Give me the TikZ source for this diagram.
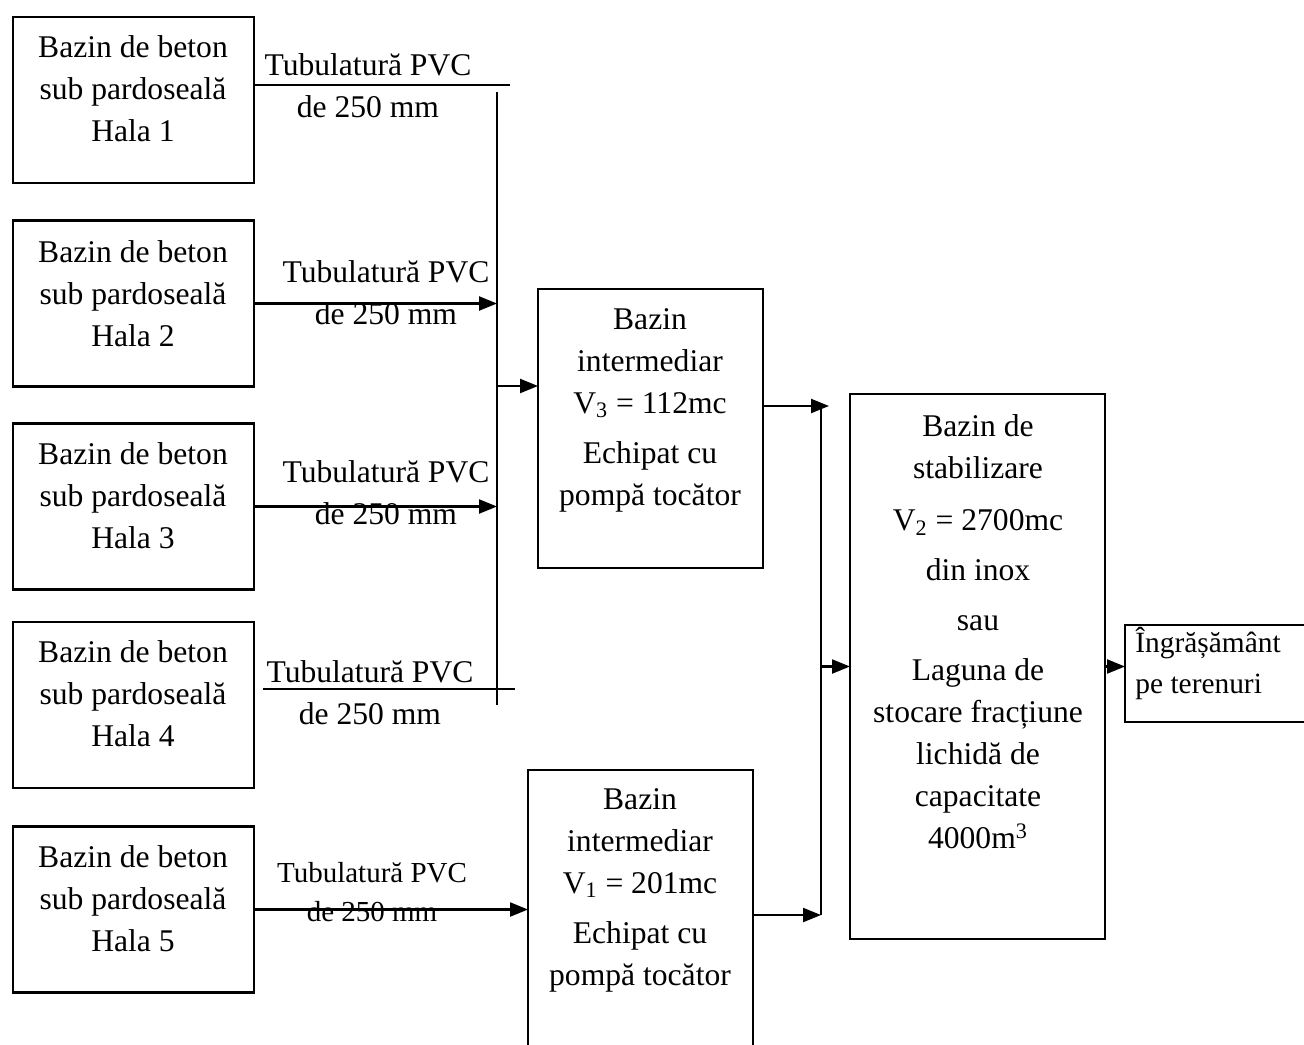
\documentclass[tikz,border=0pt]{standalone}
\usepackage{fontspec}
\setmainfont{Liberation Serif}
\usepackage{tikz}
\usetikzlibrary{arrows.meta}

\tikzset{
  box/.style={draw,line width=1.1pt,inner sep=0pt,outer sep=0pt},
  hala/.style={box,minimum width=120.5pt,minimum height=83pt},
  txt/.style={align=center,font=\fontsize{15.8}{21}\selectfont,inner sep=0pt},
  arr/.style={-{Triangle[length=9pt,width=7pt]},line width=1.1pt},
  pipe/.style={line width=1.1pt}
}

\begin{document}
\begin{tikzpicture}[x=0.5pt,y=-0.5pt]

\useasboundingbox (0,0) rectangle (1304,1044);
\clip (0,0) rectangle (1304,1044);

% --- Bazine de beton sub pardoseala ---
\node[hala] (h1) at (133.5,100) {};
\node[hala] (h2) at (133.5,303.5) {};
\node[hala] (h3) at (133.5,506.5) {};
\node[hala] (h4) at (133.5,705) {};
\node[hala] (h5) at (133.5,909.5) {};
\foreach \i/\y in {1/89,2/294,3/496,4/694,5/899}
  \node[txt] (th\i) at (133,\y) {Bazin de beton\\sub pardoseală\\Hala \i};

% --- Bazine intermediare ---
\node[box,minimum width=112.5pt,minimum height=139.5pt] (int1) at (650.5,428.5) {};
\node[txt] (tint1) at (650,410) {Bazin\\intermediar\\V\textsubscript{3} = 112mc\\[4pt]Echipat cu\\pompă tocător};

\node[box,minimum width=112.5pt,minimum height=145pt] (int2) at (640.5,915) {};
\node[txt] (tint2) at (640,890) {Bazin\\intermediar\\V\textsubscript{1} = 201mc\\[4pt]Echipat cu\\pompă tocător};

% --- Bazin de stabilizare ---
\node[box,minimum width=127.5pt,minimum height=272.5pt] (stab) at (977.5,666.5) {};
\node[txt] (tstab) at (978,632) {Bazin de\\stabilizare\\[5pt]V\textsubscript{2} = 2700mc\\[4pt]din inox\\[4pt]sau\\[4pt]Laguna de\\stocare fracțiune\\lichidă de\\capacitate\\4000m\textsuperscript{3}};

% --- Ingrasamant ---
\node[box,minimum width=90pt,minimum height=48.5pt] (out) at (1215,673.5) {};
\node[txt,align=left,anchor=west,font=\fontsize{14.7}{20.5}\selectfont] (tout) at (1135,663) {Îngrășământ\\pe terenuri};

% --- colector tubulatura ---
\coordinate (ctop) at (497,92);
\coordinate (cbot) at (497,705);
\coordinate (t1end) at (510,85);
\coordinate (t4start) at (263,689);
\coordinate (t4end) at (515,689);
\coordinate (j1) at (497,386);
\draw[pipe] (ctop) -- (cbot);
\draw[pipe] (h1.east |- t1end) -- (t1end);
\draw[pipe] (t4start) -- (t4end);
\draw[arr] (h2.east) -- (h2.east -| ctop);
\draw[arr] (h3.east) -- (h3.east -| ctop);
\draw[arr] (j1) -- (j1 -| int1.west);
\draw[arr] (h5.east) -- (h5.east -| int2.west);

% etichete tubulatura
\node[txt] (p1) at (368,85.5) {Tubulatură PVC\\de 250 mm};
\node[txt] (p2) at (386,292.5) {Tubulatură PVC\\de 250 mm};
\node[txt] (p3) at (386,492.5) {Tubulatură PVC\\de 250 mm};
\node[txt] (p4) at (370,693) {Tubulatură PVC\\de 250 mm};
\node[txt,font=\fontsize{14.5}{19.5}\selectfont] (p5) at (372,892.5) {Tubulatură PVC\\de 250 mm};

% --- spre bazinul de stabilizare ---
\coordinate (m1) at (821,406);
\coordinate (m2) at (821,915);
\draw[arr] (int1.east |- m1) -- ([xshift=4]m1);
\draw[pipe] (m1) -- (m2);
\draw[arr] (int2.east |- m2) -- (m2);
\draw[arr] (stab.west -| m1) -- (stab.west);
\draw[arr] (stab.east) -- (stab.east -| out.west);

\end{tikzpicture}
\end{document}
